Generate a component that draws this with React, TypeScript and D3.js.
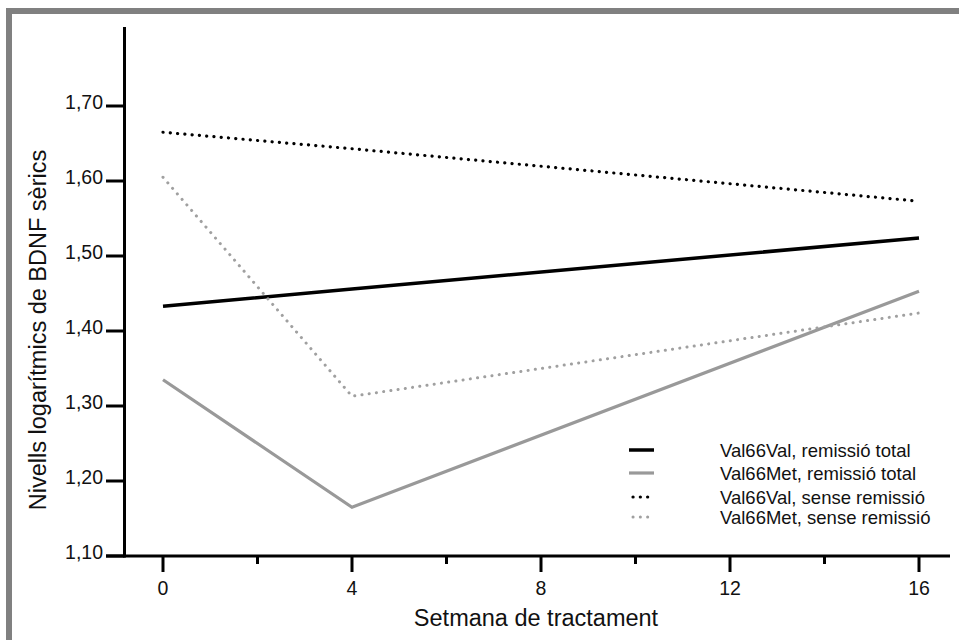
import React from "react";
import * as d3 from "d3";

const weeks = [0, 4, 16];
const valValRemissio = [1.433, 1.456, 1.524];
const valMetRemissio = [1.335, 1.165, 1.453];
const valValSense = [1.665, 1.643, 1.573];
const valMetSense = [1.605, 1.313, 1.424];

const seriesNames = [
  "Val66Val, remissió total",
  "Val66Met, remissió total",
  "Val66Val, sense remissió",
  "Val66Met, sense remissió",
];
const yTicks = [1.1, 1.2, 1.3, 1.4, 1.5, 1.6, 1.7];
const xMajorTicks = [0, 4, 8, 12, 16];
const xMinorTicks = [2, 6, 10, 14];
const xTitle = "Setmana de tractament";
const yTitle = "Nivells logarítmics de BDNF sèrics";

const W = 959;
const H = 640;
const FONT = "'Liberation Sans', Arial, sans-serif";

export default function App() {
  const x = d3.scaleLinear().domain([0, 16]).range([163, 919]);
  const y = d3.scaleLinear().domain([1.1, 1.7]).range([556, 106]);
  const yTop = y.invert(27);
  const axisX = 124.5;
  const axisY = y(1.1);

  const line = d3
    .line<number>()
    .x((_, i) => x(weeks[i]))
    .y((d) => y(d));

  const series = [
    { values: valValRemissio, color: "#000", width: 3.5, dash: null },
    { values: valMetRemissio, color: "#999", width: 3.2, dash: null },
    { values: valValSense, color: "#000", width: 3.2, dash: "0.1 7.2" },
    { values: valMetSense, color: "#a0a0a0", width: 3, dash: "0.1 7.2" },
  ];

  const legendY = [450, 473, 497, 517];

  return (
    <svg
      width={W}
      height={H}
      style={{ position: "absolute", left: 0, top: 0, background: "#fff" }}
    >
      <rect x={0} y={0} width={W} height={H} fill="#fff" />
      {/* frame */}
      <rect x={6} y={8} width={W - 6} height={6} fill="#808080" />
      <rect x={6} y={8} width={6} height={H - 8} fill="#808080" />

      {/* axes */}
      <line x1={axisX} x2={axisX} y1={y(yTop)} y2={axisY + 1.5} stroke="#000" strokeWidth={3} />
      <line x1={106} x2={950} y1={axisY} y2={axisY} stroke="#000" strokeWidth={3} />
      {yTicks.map((t) => (
        <g key={"yt" + t}>
          <line x1={106} x2={axisX} y1={y(t)} y2={y(t)} stroke="#000" strokeWidth={3} />
          <text
            x={103}
            y={y(t) + 2.5}
            textAnchor="end"
            fontFamily={FONT}
            fontSize={19.5}
            fill="#111"
          >
            {t.toFixed(2).replace(".", ",")}
          </text>
        </g>
      ))}
      {xMajorTicks.map((t) => (
        <g key={"xt" + t}>
          <line x1={x(t)} x2={x(t)} y1={axisY} y2={axisY + 16} stroke="#000" strokeWidth={3} />
          <text
            x={x(t)}
            y={595}
            textAnchor="middle"
            fontFamily={FONT}
            fontSize={19.5}
            fill="#111"
          >
            {t}
          </text>
        </g>
      ))}
      {xMinorTicks.map((t) => (
        <line key={"xm" + t} x1={x(t)} x2={x(t)} y1={axisY} y2={axisY + 8} stroke="#000" strokeWidth={3} />
      ))}

      {/* titles */}
      <text x={536} y={626} textAnchor="middle" fontFamily={FONT} fontSize={23.5} fill="#111">
        {xTitle}
      </text>
      <text
        transform={`translate(46, 330) rotate(-90)`}
        textAnchor="middle"
        fontFamily={FONT}
        fontSize={23.5}
        fill="#111"
      >
        {yTitle}
      </text>

      {/* series */}
      {series.map((s, i) => (
        <path
          key={"s" + i}
          d={line(s.values) || ""}
          fill="none"
          stroke={s.color}
          strokeWidth={s.width}
          strokeDasharray={s.dash || undefined}
          strokeLinecap={s.dash ? "round" : "butt"}
        />
      ))}

      {/* legend */}
      {series.map((s, i) => (
        <g key={"lg" + i}>
          <line
            x1={s.dash ? 633 : 629}
            x2={s.dash ? 649 : 654}
            y1={legendY[i]}
            y2={legendY[i]}
            stroke={s.color}
            strokeWidth={s.width}
            strokeDasharray={s.dash || undefined}
            strokeLinecap={s.dash ? "round" : "butt"}
          />
          <text
            x={720}
            y={legendY[i] + 6.5}
            fontFamily={FONT}
            fontSize={18.5}
            fill="#111"
          >
            {seriesNames[i]}
          </text>
        </g>
      ))}
    </svg>
  );
}
